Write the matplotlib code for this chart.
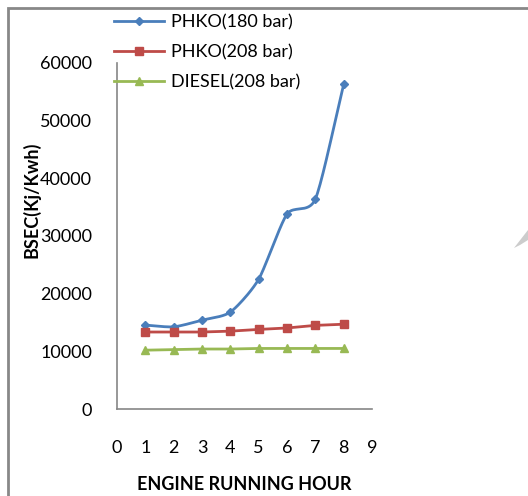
import matplotlib.pyplot as plt
import numpy as np
from matplotlib.patches import Polygon, Rectangle

hours = [1, 2, 3, 4, 5, 6, 7, 8]
phko_180 = [14550, 14250, 15400, 16800, 22500, 33800, 36400, 56300]
phko_208 = [13350, 13350, 13350, 13500, 13800, 14050, 14500, 14700]
diesel_208 = [10200, 10300, 10400, 10400, 10500, 10500, 10500, 10500]
series_names = ['PHKO(180 bar)', 'PHKO(208 bar)', 'DIESEL(208 bar)']


def smooth(x, y, n=20, k=0.7):
    # hermite curve through the points, like a spreadsheet "smoothed line"
    x = np.asarray(x, float)
    y = np.asarray(y, float)
    mx = np.gradient(x) * k
    my = np.gradient(y) * k
    t = np.linspace(0, 1, n, endpoint=False)
    h00 = 2 * t ** 3 - 3 * t ** 2 + 1
    h10 = t ** 3 - 2 * t ** 2 + t
    h01 = -2 * t ** 3 + 3 * t ** 2
    h11 = t ** 3 - t ** 2
    xs, ys = [], []
    for i in range(len(x) - 1):
        xs.extend(h00 * x[i] + h10 * mx[i] + h01 * x[i + 1] + h11 * mx[i + 1])
        ys.extend(h00 * y[i] + h10 * my[i] + h01 * y[i + 1] + h11 * my[i + 1])
    xs.append(x[-1])
    ys.append(y[-1])
    return xs, ys


plt.rcParams['font.family'] = ['Lato', 'DejaVu Sans']

fig = plt.figure(figsize=(5.28, 4.96), dpi=100)
ax = fig.add_axes([117 / 528, 1 - 409 / 496, 255 / 528, 346 / 496])

blue, red, green = '#4a7ebb', '#be4b48', '#98b954'

sx, sy = smooth(hours, phko_180)
ax.plot(sx, sy, color=blue, lw=2)
ax.plot(hours, phko_180, color=blue, ls='none', marker='D', ms=4.5)
l2, = ax.plot(hours, phko_208, color=red, lw=2, marker='s', ms=6)
l3, = ax.plot(hours, diesel_208, color=green, lw=2, marker='^', ms=6)

h1, = ax.plot([], [], color=blue, lw=2, marker='D', ms=4.5)
ax.legend([h1, l2, l3], series_names, loc='upper left',
          bbox_to_anchor=(114 / 528, 1 - 14 / 496), bbox_transform=fig.transFigure,
          frameon=False, fontsize=13, handlelength=2.75, handletextpad=0.4,
          labelspacing=0.78, borderaxespad=0, borderpad=0)

ax.set_xlim(0, 9)
ax.set_ylim(0, 60000)
ax.set_xticks(range(0, 10))
ax.set_yticks(range(0, 60001, 10000))
ax.tick_params(length=0, labelsize=13)
ax.tick_params(axis='x', pad=22)
ax.tick_params(axis='y', pad=18)
for s in ['top', 'right']:
    ax.spines[s].set_visible(False)
for s in ['left', 'bottom']:
    ax.spines[s].set_color('#868686')
    ax.spines[s].set_linewidth(1.2)

ax.set_xlabel('ENGINE RUNNING HOUR', fontsize=13, fontweight='bold', labelpad=15)
fig.text(31 / 528, 1 - 200 / 496, 'BSEC(Kj/Kwh)', rotation=90, ha='center',
         va='center', fontsize=13, fontweight='bold')

# outer frame and the small grey mark on the right edge
fig.patches.append(Rectangle((8 / 528, -0.1), 1, 1.1 - 8 / 496,
                             transform=fig.transFigure, fill=False,
                             ec='#888888', lw=2))
fig.patches.append(Polygon([(514 / 528, 1 - 248 / 496), (528 / 528, 1 - 230 / 496),
                            (528 / 528, 1 - 240 / 496), (520 / 528, 1 - 245 / 496)],
                           transform=fig.transFigure, fc='#cccccc', ec='none'))

fig.savefig('out.png', dpi=100)
